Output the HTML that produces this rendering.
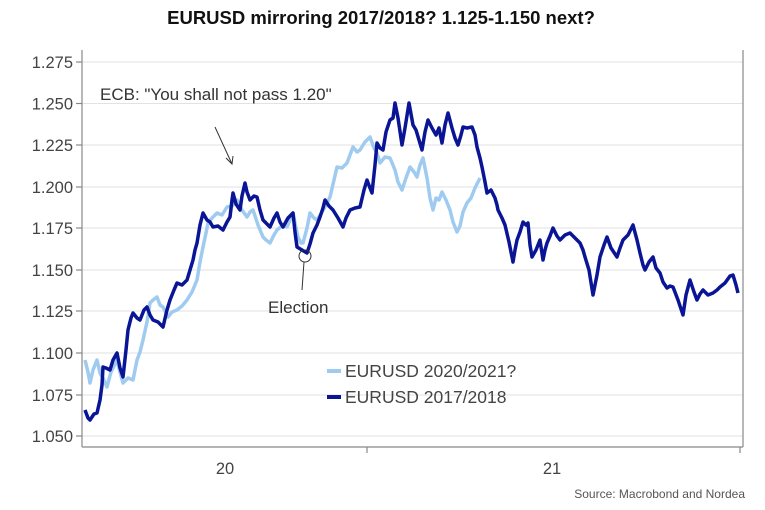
<!DOCTYPE html>
<html><head><meta charset="utf-8"><style>
body{margin:0;background:#fff;}
svg{display:block;font-family:"Liberation Sans",sans-serif;}
</style></head><body>
<svg width="765" height="510" viewBox="0 0 765 510">
<text x="381" y="24" text-anchor="middle" font-size="18.5" font-weight="bold" fill="#111">EURUSD mirroring 2017/2018? 1.125-1.150 next?</text>
<g stroke="#e2e2e2" stroke-width="1">
<line x1="82" x2="743" y1="62" y2="62"/><line x1="82" x2="743" y1="103.5" y2="103.5"/>
<line x1="82" x2="743" y1="145" y2="145"/><line x1="82" x2="743" y1="187" y2="187"/>
<line x1="82" x2="743" y1="228" y2="228"/><line x1="82" x2="743" y1="270" y2="270"/>
<line x1="82" x2="743" y1="311" y2="311"/><line x1="82" x2="743" y1="353" y2="353"/>
<line x1="82" x2="743" y1="395" y2="395"/><line x1="82" x2="743" y1="436" y2="436"/>
</g>
<g stroke="#888" stroke-width="1.2">
<line x1="82" y1="50" x2="82" y2="447"/><line x1="743" y1="50" x2="743" y2="447"/>
<line x1="82" y1="447" x2="743" y2="447"/>
<line x1="367" y1="447" x2="367" y2="453"/><line x1="740" y1="447" x2="740" y2="453"/>
<line x1="76" x2="82" y1="62" y2="62"/><line x1="76" x2="82" y1="103.5" y2="103.5"/>
<line x1="76" x2="82" y1="145" y2="145"/><line x1="76" x2="82" y1="187" y2="187"/>
<line x1="76" x2="82" y1="228" y2="228"/><line x1="76" x2="82" y1="270" y2="270"/>
<line x1="76" x2="82" y1="311" y2="311"/><line x1="76" x2="82" y1="353" y2="353"/>
<line x1="76" x2="82" y1="395" y2="395"/><line x1="76" x2="82" y1="436" y2="436"/>
</g>
<g font-size="16.5" fill="#444" text-anchor="end">
<text x="73" y="68">1.275</text><text x="73" y="109.5">1.250</text><text x="73" y="151">1.225</text>
<text x="73" y="193">1.200</text><text x="73" y="234">1.175</text><text x="73" y="276">1.150</text>
<text x="73" y="317">1.125</text><text x="73" y="359">1.100</text><text x="73" y="401">1.075</text>
<text x="73" y="442">1.050</text>
</g>
<text x="225" y="474" font-size="16.5" fill="#444" text-anchor="middle">20</text>
<text x="552" y="474" font-size="16.5" fill="#444" text-anchor="middle">21</text>
<text x="745" y="498" font-size="12" fill="#555" text-anchor="end">Source: Macrobond and Nordea</text>
<polyline fill="none" stroke="#9fcbf0" stroke-width="3.5" stroke-linejoin="round" points="85,360 88,372 90,383 93,370 97,360 100,373 104,380 107,387 111,372 114,366 117,360 120,372 123,383 128,378 133,380 137,360 140,352 143,340 147,322 150,303 153,300 157,297 160,305 163,307 166,313 168,317 172,312 177,310 182,306 187,300 192,292 197,280 200,262 203,247 206,233 208,223 212,218 217,213 222,215 227,207 232,206 237,200 242,210 247,217 250,212 253,210 258,225 263,237 266,240 270,243 274,235 277,230 282,226 287,227 290,220 293,213 296,228 298,237 301,243 303,243 307,228 310,213 314,218 317,220 322,212 326,205 330,197 334,180 337,167 342,168 347,163 350,155 353,147 357,152 360,150 365,142 370,137 374,148 377,153 380,163 385,157 390,158 395,170 398,182 402,190 406,178 410,167 414,172 417,177 420,165 423,158 427,178 430,198 433,210 436,198 439,200 442,192 446,200 450,210 453,222 457,232 460,226 463,212 467,203 471,198 475,188 480,178"/>
<polyline fill="none" stroke="#0a1596" stroke-width="3.5" stroke-linejoin="round" points="85,410 88,418 90,420 94,414 97,413 100,400 102,385 103,367 106,368 110,370 113,360 117,353 120,368 123,377 126,350 128,330 131,318 133,313 137,318 140,320 144,310 147,307 150,315 153,320 158,322 163,327 167,310 170,300 174,290 177,283 182,285 187,280 190,270 193,260 195,250 197,243 200,225 203,213 207,220 210,222 213,227 218,226 223,230 227,222 230,217 232,200 233,193 236,204 240,210 242,196 245,183 247,192 250,200 254,196 257,197 260,210 263,220 267,224 270,227 274,218 277,213 280,222 283,227 288,218 293,213 295,232 297,247 302,250 307,253 310,244 313,233 317,225 320,217 323,208 325,200 329,206 333,210 338,218 343,227 346,218 350,210 355,208 360,207 364,190 367,180 370,188 372,193 375,165 377,143 380,148 383,150 386,132 390,120 393,118 395,103 398,118 402,145 405,128 409,103 413,125 416,130 419,140 422,150 425,132 428,120 432,128 436,135 439,128 442,143 445,125 448,113 452,128 455,138 458,145 461,135 463,127 467,128 472,127 475,135 477,147 480,158 482,167 485,182 487,193 491,190 495,198 497,205 498,210 502,218 505,225 509,242 513,262 515,250 517,240 520,232 523,222 526,225 528,223 530,245 532,257 536,250 540,240 543,260 545,250 547,243 550,236 553,228 557,236 560,240 565,235 570,233 575,238 580,243 583,250 585,257 589,270 593,295 597,275 600,257 604,245 607,237 611,248 617,257 620,248 623,240 628,235 633,225 637,240 640,253 643,265 645,270 649,262 653,257 656,268 660,273 663,282 667,288 670,286 673,287 678,300 683,315 686,295 690,280 694,292 697,300 700,294 703,290 708,295 713,293 717,290 720,287 725,283 730,276 733,275 736,285 738,293"/>
<circle cx="305" cy="256" r="6" fill="none" stroke="#333" stroke-width="1"/>
<line x1="304" y1="262" x2="302" y2="290" stroke="#333" stroke-width="1"/>
<text x="268" y="313" font-size="17" fill="#333">Election</text>
<text x="100" y="100" font-size="17" fill="#333">ECB: "You shall not pass 1.20"</text>
<line x1="215" y1="127" x2="232" y2="164" stroke="#333" stroke-width="1"/>
<polyline points="226,158 232,164 233,156" fill="none" stroke="#333" stroke-width="1"/>
<line x1="327" y1="371" x2="341" y2="371" stroke="#9fcbf0" stroke-width="4"/>
<line x1="327" y1="397" x2="341" y2="397" stroke="#0a1596" stroke-width="4"/>
<text x="345" y="377" font-size="17.5" fill="#444">EURUSD 2020/2021?</text>
<text x="345" y="403" font-size="17.5" fill="#444">EURUSD 2017/2018</text>
</svg>
</body></html>
